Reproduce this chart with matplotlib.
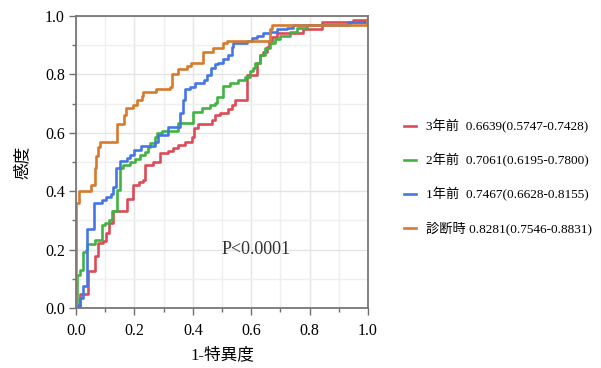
import matplotlib.pyplot as plt
from matplotlib.ticker import MultipleLocator

plt.rcParams['font.family'] = ['Liberation Serif', 'Noto Sans CJK JP']

# ROC vertices: (fpr where the jump happens, tpr after the jump)
fpr_3y = [0, 0.014, 0.042, 0.065, 0.076, 0.094, 0.103, 0.114, 0.128, 0.174, 0.196, 0.214,
          0.231, 0.236, 0.265, 0.288, 0.316, 0.333, 0.35, 0.373, 0.396, 0.404, 0.419, 0.465,
          0.476, 0.493, 0.522, 0.533, 0.545, 0.584, 0.621, 0.63, 0.641, 0.653, 0.662, 0.67,
          0.687, 0.779, 0.841, 0.95, 1.0]
tpr_3y = [0, 0.048, 0.128, 0.178, 0.221, 0.23, 0.256, 0.292, 0.332, 0.372, 0.421, 0.432,
          0.44, 0.49, 0.5, 0.53, 0.539, 0.547, 0.558, 0.57, 0.587, 0.615, 0.63, 0.644,
          0.661, 0.669, 0.68, 0.695, 0.712, 0.798, 0.838, 0.866, 0.878, 0.895, 0.916, 0.929,
          0.941, 0.954, 0.981, 0.985, 1.0]

fpr_2y = [0, 0.003, 0.014, 0.024, 0.034, 0.039, 0.065, 0.088, 0.1, 0.114, 0.122, 0.139,
          0.141, 0.151, 0.162, 0.185, 0.202, 0.219, 0.236, 0.248, 0.253, 0.271, 0.279, 0.293,
          0.35, 0.402, 0.43, 0.459, 0.476, 0.482, 0.505, 0.527, 0.556, 0.579, 0.596, 0.605,
          0.613, 0.63, 0.647, 0.664, 0.682, 0.699, 0.733, 0.756, 0.79, 0.94, 1.0]
tpr_2y = [0, 0.113, 0.13, 0.193, 0.2, 0.219, 0.232, 0.284, 0.292, 0.301, 0.333, 0.37,
          0.404, 0.478, 0.49, 0.501, 0.509, 0.524, 0.535, 0.552, 0.566, 0.585, 0.6, 0.607,
          0.632, 0.672, 0.686, 0.695, 0.701, 0.724, 0.76, 0.77, 0.781, 0.792, 0.81, 0.821,
          0.838, 0.866, 0.889, 0.906, 0.92, 0.932, 0.946, 0.96, 0.969, 0.98, 1.0]

fpr_1y = [0, 0.008, 0.014, 0.025, 0.039, 0.063, 0.088, 0.104, 0.12, 0.128, 0.137, 0.151,
          0.174, 0.185, 0.2, 0.222, 0.27, 0.28, 0.316, 0.356, 0.365, 0.372, 0.39, 0.408,
          0.438, 0.447, 0.461, 0.476, 0.487, 0.505, 0.522, 0.533, 0.539, 0.584, 0.602, 0.619,
          0.641, 0.664, 0.687, 0.722, 0.744, 0.93, 1.0]
tpr_1y = [0, 0.01, 0.035, 0.075, 0.27, 0.358, 0.37, 0.381, 0.39, 0.415, 0.478, 0.503,
          0.513, 0.524, 0.541, 0.556, 0.57, 0.592, 0.621, 0.667, 0.712, 0.749, 0.756, 0.77,
          0.781, 0.798, 0.821, 0.836, 0.84, 0.852, 0.866, 0.895, 0.909, 0.916, 0.924, 0.932,
          0.941, 0.946, 0.954, 0.96, 0.969, 0.978, 1.0]

fpr_dx = [0, 0, 0.01, 0.05, 0.065, 0.068, 0.075, 0.082, 0.14, 0.163, 0.172, 0.195, 0.21,
          0.225, 0.23, 0.275, 0.322, 0.33, 0.35, 0.38, 0.393, 0.436, 0.47, 0.505, 0.516,
          0.665, 0.67, 0.995, 1.0]
tpr_dx = [0, 0.36, 0.40, 0.42, 0.48, 0.52, 0.55, 0.57, 0.63, 0.66, 0.685, 0.695, 0.712,
          0.725, 0.74, 0.75, 0.757, 0.80, 0.82, 0.83, 0.84, 0.878, 0.889, 0.906, 0.916,
          0.955, 0.97, 0.99, 1.0]

labels = ["3年前  0.6639(0.5747-0.7428)",
          "2年前  0.7061(0.6195-0.7800)",
          "1年前  0.7467(0.6628-0.8155)",
          "診断時 0.8281(0.7546-0.8831)"]
colors = ["#dc4b57", "#3fb443", "#4676e6", "#d67b2c"]
curves = [(fpr_3y, tpr_3y), (fpr_2y, tpr_2y), (fpr_1y, tpr_1y), (fpr_dx, tpr_dx)]

fig = plt.figure(figsize=(6.01, 3.68), dpi=100)
ax = fig.add_axes([0.1265, 0.163, 0.4858, 0.7935])

lines = []
for (fx, ty), c, lab in zip(curves, colors, labels):
    ln, = ax.plot(fx, ty, drawstyle="steps-post", color=c, lw=1.9, label=lab)
    lines.append(ln)

ax.set_xlim(0, 1)
ax.set_ylim(0, 1)
ax.xaxis.set_major_locator(MultipleLocator(0.2))
ax.yaxis.set_major_locator(MultipleLocator(0.2))
ax.xaxis.set_minor_locator(MultipleLocator(0.1))
ax.yaxis.set_minor_locator(MultipleLocator(0.1))
ax.set_xticklabels([f"{v:.1f}" for v in ax.get_xticks()])
ax.set_yticklabels([f"{v:.1f}" for v in ax.get_yticks()])
ax.grid(which="major", color="#e4e4e4", lw=1)
ax.grid(which="minor", color="#efefef", lw=1)
ax.set_axisbelow(True)
ax.tick_params(which="major", length=5, width=1, color="#707070", labelsize=11.5)
ax.tick_params(which="minor", length=3, width=1, color="#707070")
ax.tick_params(axis="x", which="major", pad=6)
ax.tick_params(axis="y", which="major", pad=3)
for s in ax.spines.values():
    s.set_color("#777777")
    s.set_linewidth(1.3)

ax.set_xlabel("1-特異度", fontsize=12, labelpad=6)
ax.set_ylabel("感度", fontsize=12, labelpad=10)
ax.text(0.5, 0.2, "P<0.0001", fontsize=13, va="center", ha="left", color="#333333")

fig.legend(handles=lines, loc="center left", bbox_to_anchor=(0.672, 0.518),
           frameon=False, fontsize=9.5, handlelength=0.9, handletextpad=0.75,
           labelspacing=1.5, borderpad=0, borderaxespad=0)

fig.savefig("out.png", dpi=100)
